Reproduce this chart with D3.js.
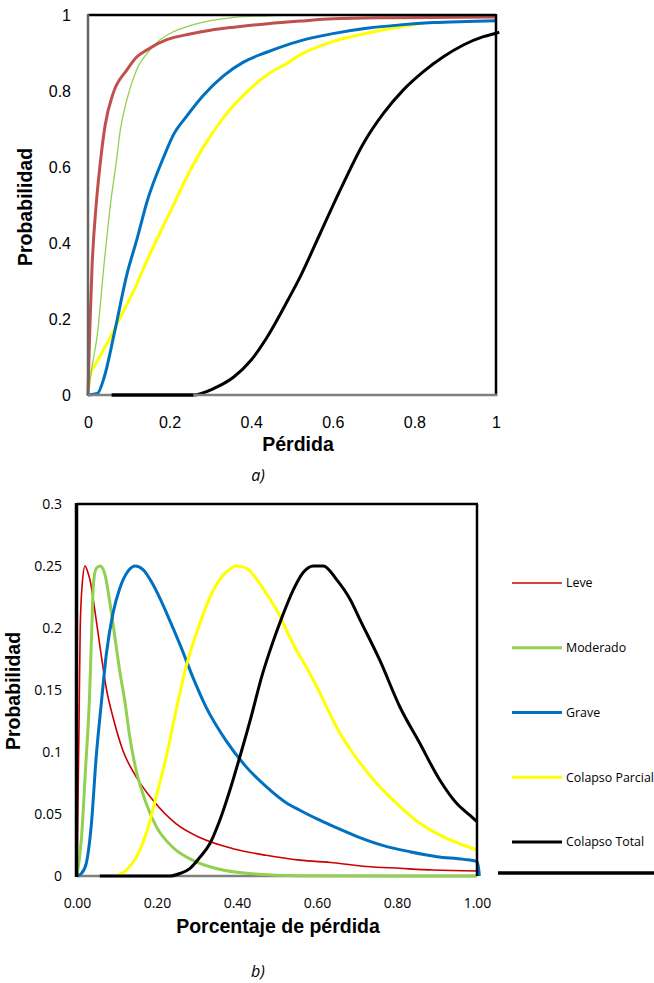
<!DOCTYPE html>
<html>
<head>
<meta charset="utf-8">
<script src="https://cdn.jsdelivr.net/npm/d3@7"></script>
<style>
  html, body { margin: 0; padding: 0; background: #fff; overflow: hidden; }
  svg { display: block; }
</style>
</head>
<body>
<svg id="fig" width="654" height="983"></svg>
<script>
// ---- Panel a): cumulative loss distributions ----
const cdfLeve = [[0,0],[0.004,0.16],[0.01,0.34],[0.02,0.5],[0.029,0.6],[0.042,0.71],[0.062,0.795],[0.095,0.855],[0.12,0.89],[0.144,0.908],[0.193,0.935],[0.25,0.95],[0.3,0.96],[0.358,0.968],[0.44,0.977],[0.52,0.984],[0.6,0.99],[0.75,0.993],[1,0.995]];
const cdfModerado = [[0,0],[0.01,0.075],[0.023,0.16],[0.039,0.34],[0.056,0.51],[0.07,0.618],[0.078,0.689],[0.095,0.776],[0.119,0.855],[0.152,0.908],[0.176,0.934],[0.209,0.956],[0.25,0.972],[0.3,0.985],[0.358,0.994],[0.44,0.998],[0.5,1],[1,1]];
const cdfGrave = [[0,0],[0.023,0.004],[0.04,0.048],[0.064,0.16],[0.096,0.32],[0.12,0.41],[0.145,0.51],[0.185,0.625],[0.209,0.684],[0.242,0.734],[0.283,0.789],[0.332,0.84],[0.381,0.876],[0.438,0.902],[0.52,0.932],[0.6,0.951],[0.683,0.965],[0.765,0.974],[0.846,0.98],[0.928,0.983],[1,0.985]];
const cdfParcial = [[0,0],[0.006,0.057],[0.015,0.075],[0.047,0.136],[0.08,0.206],[0.113,0.276],[0.145,0.355],[0.205,0.49],[0.25,0.59],[0.283,0.653],[0.332,0.73],[0.389,0.797],[0.442,0.845],[0.49,0.874],[0.52,0.895],[0.6,0.93],[0.683,0.952],[0.765,0.969],[0.82,0.978]];
const cdfTotal = [[0.058,0],[0.258,0],[0.31,0.018],[0.358,0.048],[0.4,0.092],[0.44,0.154],[0.49,0.25],[0.52,0.311],[0.569,0.425],[0.618,0.539],[0.675,0.662],[0.724,0.741],[0.773,0.803],[0.822,0.851],[0.871,0.89],[0.92,0.921],[0.969,0.943],[1,0.952],[1.008,0.955]];
const ticksA = [0, 0.2, 0.4, 0.6, 0.8, 1];

// ---- Panel b): loss density per damage state ----
const pdfLeve = [[0,0],[0.005,0.12],[0.008,0.2],[0.013,0.235],[0.02,0.25],[0.027,0.245],[0.033,0.238],[0.041,0.222],[0.057,0.186],[0.074,0.15],[0.09,0.128],[0.115,0.101],[0.148,0.08],[0.19,0.061],[0.248,0.042],[0.307,0.031],[0.39,0.022],[0.473,0.0167],[0.557,0.0128],[0.641,0.0107],[0.724,0.0077],[0.807,0.0062],[0.89,0.0048],[1,0.004]];
const pdfModerado = [[0,0],[0.011,0.03],[0.022,0.09],[0.031,0.142],[0.037,0.2],[0.041,0.235],[0.048,0.248],[0.058,0.25],[0.07,0.243],[0.08,0.225],[0.091,0.201],[0.107,0.165],[0.12,0.14],[0.132,0.112],[0.148,0.085],[0.165,0.066],[0.198,0.04],[0.24,0.023],[0.29,0.0126],[0.348,0.006],[0.43,0.002],[0.557,0.0003],[1,0]];
const pdfGrave = [[0,0],[0.011,0.002],[0.023,0.01],[0.036,0.042],[0.048,0.096],[0.061,0.14],[0.073,0.178],[0.09,0.212],[0.107,0.232],[0.128,0.246],[0.146,0.25],[0.165,0.247],[0.19,0.235],[0.21,0.222],[0.228,0.209],[0.257,0.187],[0.29,0.16],[0.323,0.136],[0.373,0.109],[0.423,0.088],[0.473,0.072],[0.523,0.059],[0.557,0.053],[0.6,0.046],[0.641,0.04],[0.699,0.032],[0.766,0.0245],[0.832,0.0196],[0.9,0.0156],[0.967,0.0134],[1,0.0116],[1.004,0.006],[1.006,0]];
const pdfParcial = [[0.098,0],[0.123,0.0046],[0.148,0.015],[0.173,0.034],[0.198,0.064],[0.223,0.096],[0.248,0.134],[0.273,0.169],[0.307,0.2035],[0.34,0.23],[0.373,0.245],[0.4,0.25],[0.425,0.248],[0.45,0.239],[0.475,0.227],[0.5,0.214],[0.524,0.198],[0.549,0.182],[0.574,0.168],[0.599,0.153],[0.632,0.131],[0.649,0.12],[0.69,0.099],[0.749,0.0748],[0.799,0.0586],[0.857,0.0425],[0.915,0.0317],[0.965,0.025],[1,0.021]];
const pdfTotal = [[0.057,0],[0.232,0],[0.257,0.002],[0.282,0.006],[0.307,0.015],[0.332,0.026],[0.357,0.045],[0.382,0.069],[0.407,0.096],[0.435,0.128],[0.462,0.161],[0.489,0.188],[0.514,0.21],[0.541,0.231],[0.566,0.245],[0.591,0.25],[0.616,0.25],[0.649,0.239],[0.683,0.223],[0.707,0.207],[0.757,0.174],[0.807,0.1365],[0.857,0.107],[0.907,0.0774],[0.949,0.0586],[0.982,0.049],[1,0.0438]];
const ticksBX = [0, 0.2, 0.4, 0.6, 0.8, 1];
const ticksBY = [0, 0.05, 0.1, 0.15, 0.2, 0.25, 0.3];

const legendNames = ["Leve", "Moderado", "Grave", "Colapso Parcial", "Colapso Total"];

const svg = d3.select("#fig");
const ARIAL = "'Liberation Sans', Arial, sans-serif";
const CALIBRI = "'Open Sans', 'Noto Sans', sans-serif";

// ================= Panel a) =================
const ax = d3.scaleLinear().domain([0, 1]).range([88, 496]);
const ay = d3.scaleLinear().domain([0, 1]).range([395, 15]);
const lineA = d3.line().x(d => ax(d[0])).y(d => ay(d[1])).curve(d3.curveMonotoneX);

const gA = svg.append("g");

const seriesA = [
  { data: cdfParcial, color: "#FFFF00", w: 3 },
  { data: cdfGrave, color: "#0070C0", w: 3 },
  { data: cdfModerado, color: "#92D050", w: 1.3 },
  { data: cdfLeve, color: "#C0504D", w: 3 },
  { data: cdfTotal, color: "#000000", w: 3 }
];
seriesA.forEach(s => {
  gA.append("path").attr("d", lineA(s.data)).attr("fill", "none")
    .attr("stroke", s.color).attr("stroke-width", s.w).attr("stroke-linejoin", "round");
});

// frame
gA.append("line").attr("x1", ax(0)).attr("x2", ax(1)).attr("y1", ay(1)).attr("y2", ay(1))
  .attr("stroke", "#000").attr("stroke-width", 2.5);
gA.append("line").attr("x1", ax(1)).attr("x2", ax(1)).attr("y1", ay(1) - 1).attr("y2", ay(0) + 1)
  .attr("stroke", "#000").attr("stroke-width", 2.5);
gA.append("line").attr("x1", ax(0)).attr("x2", ax(0)).attr("y1", ay(1) - 1).attr("y2", ay(0) + 1)
  .attr("stroke", "#666").attr("stroke-width", 2.5);
gA.append("line").attr("x1", ax(0)).attr("x2", ax(1) + 1).attr("y1", ay(0)).attr("y2", ay(0))
  .attr("stroke", "#808080").attr("stroke-width", 2.5);
// redraw the flat start of the black curve over the base line
gA.append("path").attr("d", lineA(cdfTotal.slice(0, 2))).attr("stroke", "#000").attr("stroke-width", 3);

const xAxisA = d3.axisBottom(ax).tickValues(ticksA).tickSize(0).tickPadding(22).tickFormat(d3.format("~g"));
const yAxisA = d3.axisLeft(ay).tickValues(ticksA).tickSize(0).tickPadding(17).tickFormat(d3.format("~g"));
const gxA = gA.append("g").attr("transform", `translate(0,${ay(0)})`).call(xAxisA);
const gyA = gA.append("g").attr("transform", `translate(${ax(0)},0)`).call(yAxisA);
[gxA, gyA].forEach(g => {
  g.select(".domain").remove();
  g.selectAll("text").attr("font-family", ARIAL).attr("font-size", 16).attr("fill", "#000");
});

gA.append("text").attr("x", 298).attr("y", 451).attr("text-anchor", "middle")
  .attr("font-family", ARIAL).attr("font-weight", "bold").attr("font-size", 19.5).text("Pérdida");
gA.append("text").attr("transform", "translate(32,207) rotate(-90)").attr("text-anchor", "middle")
  .attr("font-family", ARIAL).attr("font-weight", "bold").attr("font-size", 19.5).text("Probabilidad");
gA.append("text").attr("x", 258).attr("y", 481).attr("text-anchor", "middle")
  .attr("font-family", CALIBRI).attr("font-style", "italic").attr("font-size", 16).text("a)");

// ================= Panel b) =================
const bx = d3.scaleLinear().domain([0, 1]).range([77, 477]);
const by = d3.scaleLinear().domain([0, 0.3]).range([876, 504]);
const lineB = d3.line().x(d => bx(d[0])).y(d => by(d[1])).curve(d3.curveMonotoneX);

const gB = svg.append("g");

// base line first, curves on top of it
gB.append("line").attr("x1", bx(0)).attr("x2", bx(1)).attr("y1", by(0)).attr("y2", by(0))
  .attr("stroke", "#808080").attr("stroke-width", 2.5);

const seriesB = [
  { name: legendNames[0], data: pdfLeve, color: "#CC0000", w: 1.6 },
  { name: legendNames[1], data: pdfModerado, color: "#92D050", w: 3 },
  { name: legendNames[2], data: pdfGrave, color: "#0070C0", w: 3 },
  { name: legendNames[3], data: pdfParcial, color: "#FFFF00", w: 3 },
  { name: legendNames[4], data: pdfTotal, color: "#000000", w: 3 }
];
seriesB.forEach(s => {
  gB.append("path").attr("d", lineB(s.data)).attr("fill", "none")
    .attr("stroke", s.color).attr("stroke-width", s.w).attr("stroke-linejoin", "round");
});

gB.append("line").attr("x1", bx(0)).attr("x2", bx(1) + 1).attr("y1", by(0.3)).attr("y2", by(0.3))
  .attr("stroke", "#000").attr("stroke-width", 2.5);
gB.append("line").attr("x1", bx(1)).attr("x2", bx(1)).attr("y1", by(0.3)).attr("y2", by(0))
  .attr("stroke", "#000").attr("stroke-width", 2.5);
gB.append("line").attr("x1", bx(0) - 0.5).attr("x2", bx(0) - 0.5).attr("y1", by(0.3) - 1).attr("y2", by(0) + 1)
  .attr("stroke", "#000").attr("stroke-width", 3.5);

const xAxisB = d3.axisBottom(bx).tickValues(ticksBX).tickSize(0).tickPadding(22).tickFormat(d3.format(".2f"));
const yAxisB = d3.axisLeft(by).tickValues(ticksBY).tickSize(0).tickPadding(15).tickFormat(d3.format("~g"));
const gxB = gB.append("g").attr("transform", `translate(0,${by(0)})`).call(xAxisB);
const gyB = gB.append("g").attr("transform", `translate(${bx(0)},0)`).call(yAxisB);
[gxB, gyB].forEach(g => {
  g.select(".domain").remove();
  g.selectAll("text").attr("font-family", CALIBRI).attr("font-size", 14).attr("fill", "#000");
});

gB.append("text").attr("x", 278).attr("y", 933).attr("text-anchor", "middle")
  .attr("font-family", ARIAL).attr("font-weight", "bold").attr("font-size", 19.5).text("Porcentaje de pérdida");
gB.append("text").attr("transform", "translate(20,691) rotate(-90)").attr("text-anchor", "middle")
  .attr("font-family", ARIAL).attr("font-weight", "bold").attr("font-size", 19.5).text("Probabilidad");
gB.append("text").attr("x", 258).attr("y", 977).attr("text-anchor", "middle")
  .attr("font-family", CALIBRI).attr("font-style", "italic").attr("font-size", 16).text("b)");

// legend
const legendY = d3.scalePoint().domain(legendNames).range([583, 842]);
const lg = gB.append("g");
seriesB.forEach(s => {
  const y = legendY(s.name);
  lg.append("line").attr("x1", 512).attr("x2", 562).attr("y1", y).attr("y2", y)
    .attr("stroke", s.color).attr("stroke-width", s.w);
  lg.append("text").attr("x", 566).attr("y", y).attr("dy", "0.35em")
    .attr("font-family", CALIBRI).attr("font-size", 12.4).attr("fill", "#000").text(s.name);
});

// separator stroke at the foot of the legend
gB.append("line").attr("x1", 498).attr("x2", 654).attr("y1", 873).attr("y2", 873)
  .attr("stroke", "#000").attr("stroke-width", 3.5);
</script>
</body>
</html>
